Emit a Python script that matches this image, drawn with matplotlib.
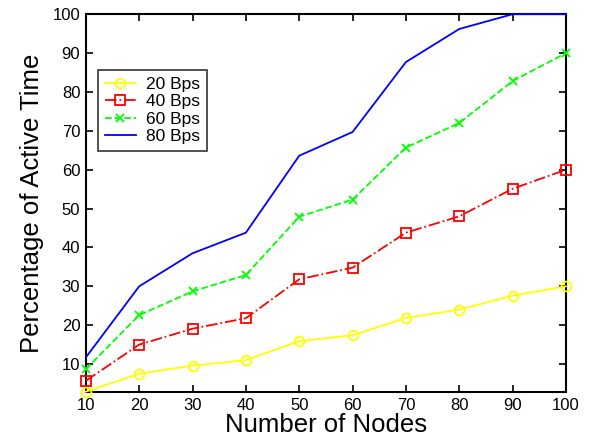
import matplotlib
matplotlib.use('Agg')
import matplotlib.pyplot as plt

plt.rcParams['font.family'] = ['Liberation Sans', 'DejaVu Sans']

nodes = [10, 20, 30, 40, 50, 60, 70, 80, 90, 100]
bps20 = [2.9, 7.5, 9.6, 11.0, 15.9, 17.4, 21.9, 24.0, 27.6, 30.0]
bps40 = [5.7, 15.0, 19.1, 21.8, 31.8, 34.8, 43.8, 48.0, 55.1, 60.0]
bps60 = [8.7, 22.6, 28.7, 32.9, 47.9, 52.3, 65.7, 72.0, 82.8, 90.0]
bps80 = [11.7, 30.0, 38.5, 43.8, 63.6, 69.7, 87.7, 96.2, 100.0, 100.0]

fig = plt.figure(figsize=(5.92, 4.44), dpi=100)
ax = fig.add_axes([0.145, 0.117, 0.811, 0.851])

ax.plot(nodes, bps20, '-', color='#ffff00', marker='o', ms=7, mfc='none',
        mew=1.3, lw=1.3, label='20 Bps', clip_on=False, zorder=3)
ax.plot(nodes, bps40, '-.', color='#ff0000', marker='s', ms=6.5, mfc='none',
        mew=1.3, lw=1.3, label='40 Bps', clip_on=False, zorder=3)
ax.plot(nodes, bps60, '--', color='#00ff00', marker='x', ms=6, mew=1.3,
        lw=1.3, label='60 Bps', clip_on=False, zorder=3)
ax.plot(nodes, bps80, '-', color='#0000ff', lw=1.3, label='80 Bps',
        clip_on=False, zorder=3)

ax.set_xlim(10, 100)
ax.set_ylim(2.8, 100)
ax.set_xticks(nodes)
ax.set_yticks(range(10, 101, 10))
ax.tick_params(direction='in', top=True, right=True, labelsize=12,
               length=5, width=1.2, pad=4)
for s in ax.spines.values():
    s.set_linewidth(1.5)

ax.set_xlabel('Number of Nodes', fontsize=18.5, labelpad=0)
ax.set_ylabel('Percentage of Active Time', fontsize=18.5, labelpad=6)

leg = ax.legend(loc='upper left', bbox_to_anchor=(0.025, 0.852), fontsize=12.5,
                frameon=True, fancybox=False, edgecolor='black',
                handlelength=1.8, borderpad=0.4, labelspacing=0.12,
                handletextpad=0.6, borderaxespad=0)
leg.get_frame().set_linewidth(1.2)

plt.savefig('out.png', dpi=100)
